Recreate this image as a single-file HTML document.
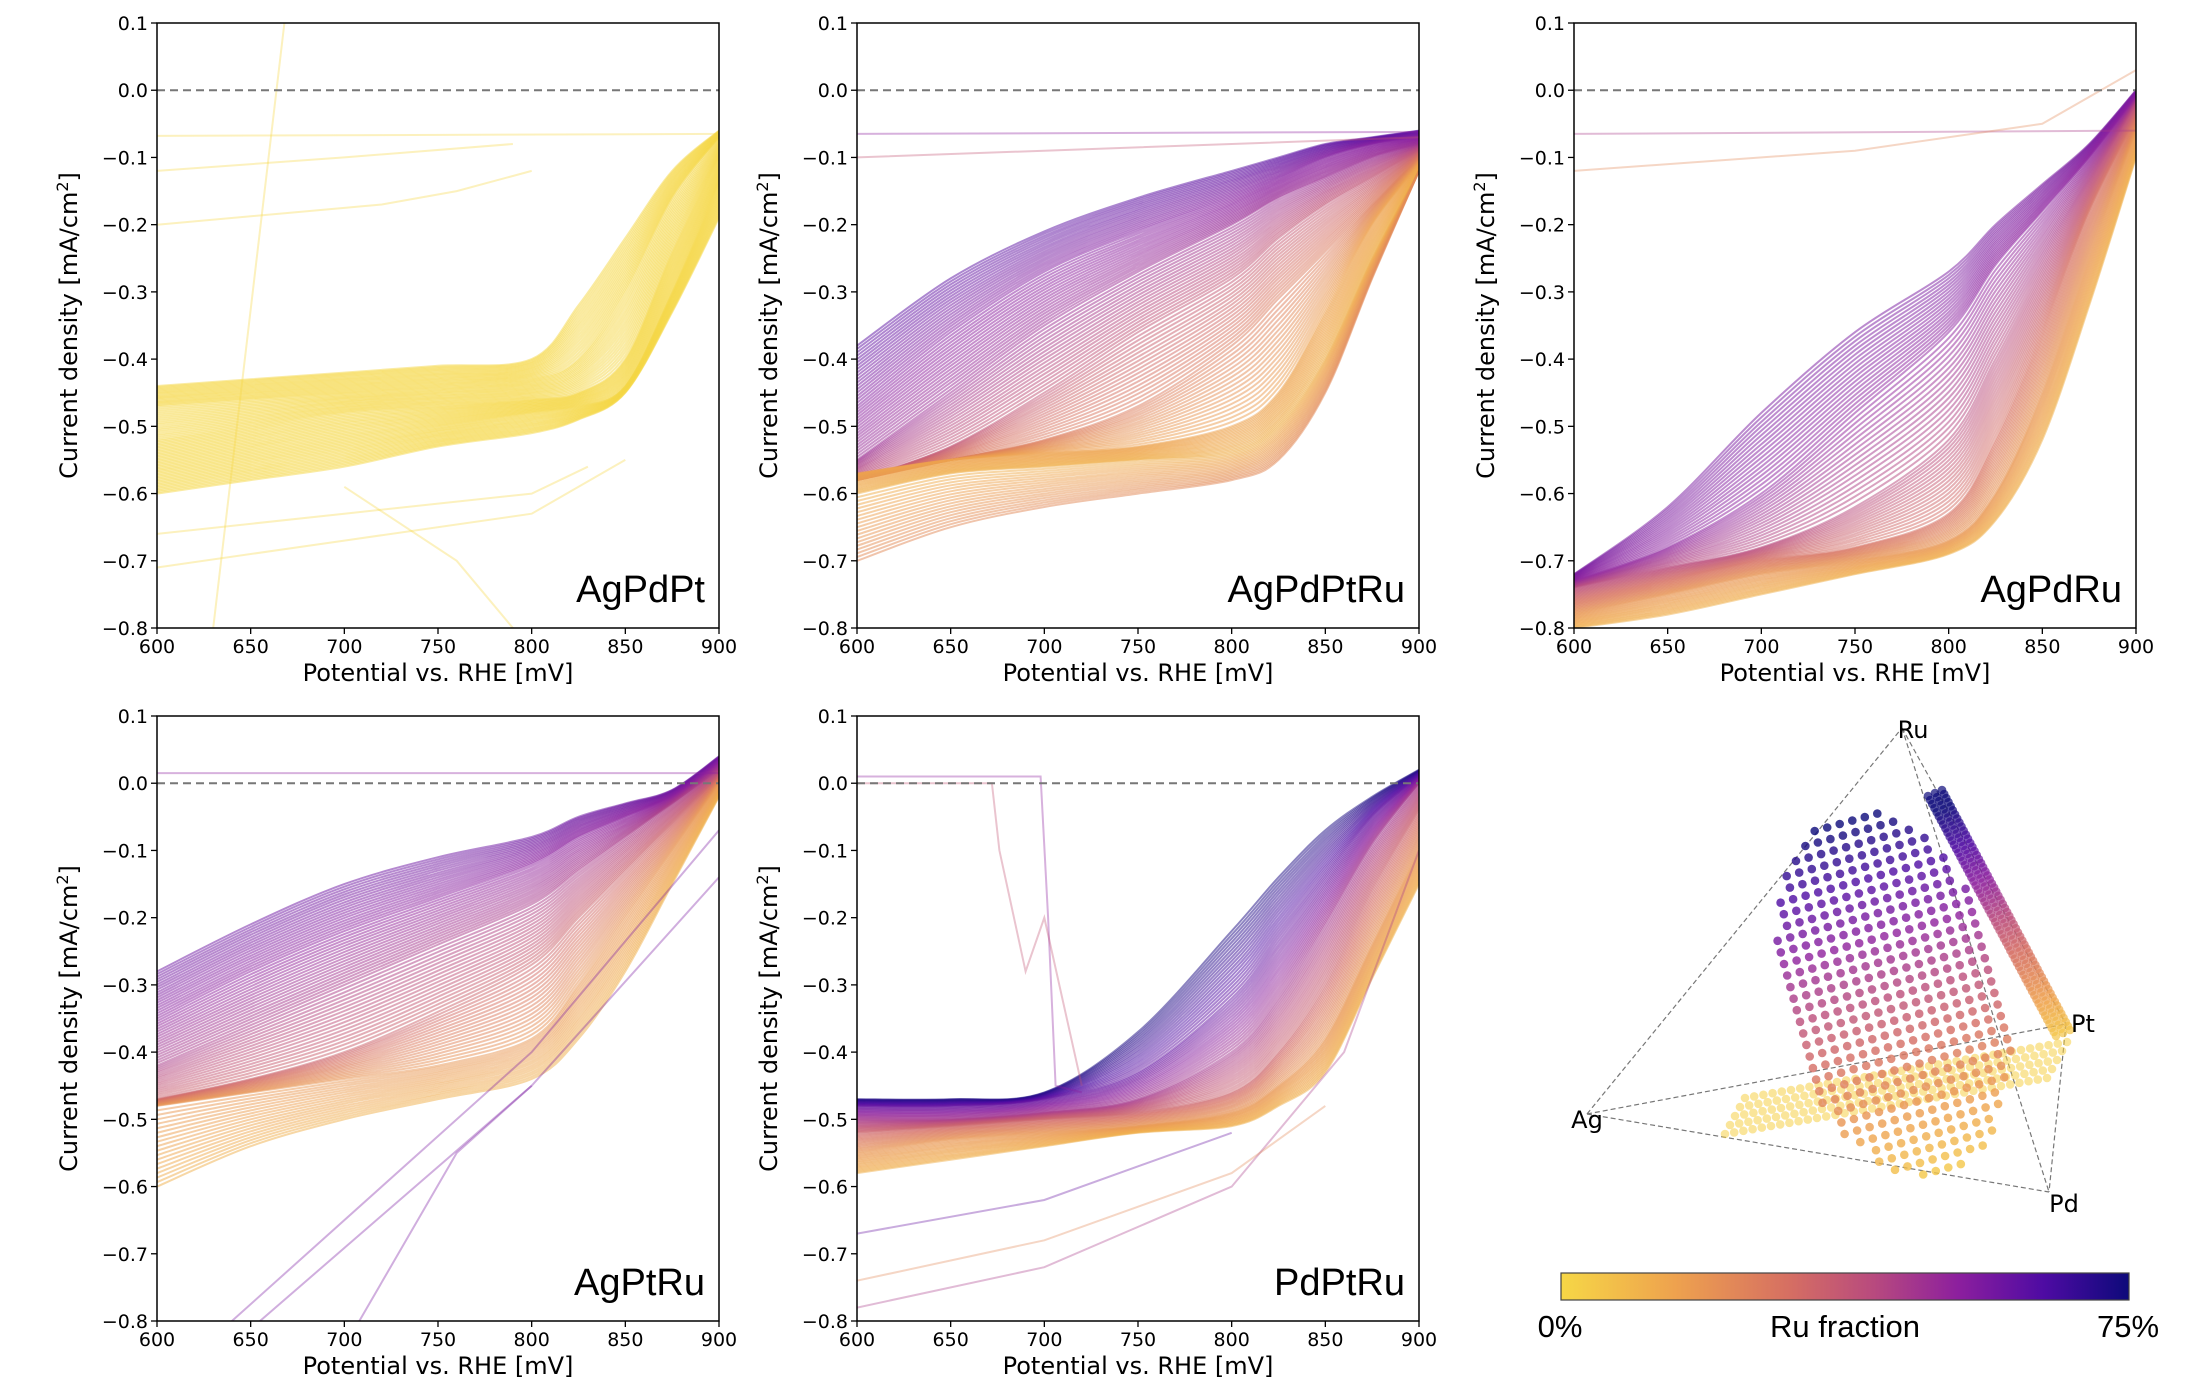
<!DOCTYPE html>
<html><head><meta charset="utf-8"><style>
html,body{margin:0;padding:0;background:#fff;}
svg{display:block;}
text{font-family:"DejaVu Sans","Liberation Sans",sans-serif;fill:#000;}
.pl{font-family:"Liberation Sans",sans-serif;}
</style></head><body>
<svg id="fig" width="2200" height="1400" viewBox="0 0 2200 1400" xmlns="http://www.w3.org/2000/svg">
<defs>
<linearGradient id="cmap" x1="0" x2="1" y1="0" y2="0">
<stop offset="0" stop-color="#f6d746"/><stop offset="0.2" stop-color="#eea24e"/><stop offset="0.4" stop-color="#d66f62"/><stop offset="0.55" stop-color="#b84a7e"/><stop offset="0.7" stop-color="#8c1f9e"/><stop offset="0.85" stop-color="#4e0ba3"/><stop offset="1" stop-color="#0d0a7a"/>
</linearGradient>
</defs>
</svg>
<script>
const xs = [600,650,700,750,800,825,850,875,900];
const xTicks = [600,650,700,750,800,850,900];
const yTicks = [0.1,0,-0.1,-0.2,-0.3,-0.4,-0.5,-0.6,-0.7,-0.8];
const panelNames = ["AgPdPt","AgPdPtRu","AgPdRu","AgPtRu","PdPtRu"];
const p1Curves = [
 [0.0,[-0.44,-0.43,-0.42,-0.41,-0.40,-0.32,-0.22,-0.12,-0.06]],
 [0.0,[-0.47,-0.46,-0.45,-0.44,-0.43,-0.40,-0.30,-0.16,-0.07]],
 [0.0,[-0.52,-0.50,-0.48,-0.47,-0.46,-0.45,-0.40,-0.24,-0.10]],
 [0.0,[-0.56,-0.54,-0.52,-0.50,-0.48,-0.47,-0.44,-0.30,-0.14]],
 [0.0,[-0.60,-0.58,-0.56,-0.53,-0.51,-0.49,-0.45,-0.33,-0.19]]];
const p2Curves = [
 [0.82,[-0.38,-0.28,-0.21,-0.16,-0.12,-0.10,-0.08,-0.07,-0.06]],
 [0.72,[-0.47,-0.36,-0.27,-0.21,-0.16,-0.13,-0.10,-0.08,-0.07]],
 [0.65,[-0.55,-0.45,-0.35,-0.27,-0.20,-0.16,-0.13,-0.10,-0.08]],
 [0.5,[-0.58,-0.53,-0.45,-0.36,-0.28,-0.22,-0.17,-0.13,-0.09]],
 [0.35,[-0.58,-0.55,-0.52,-0.47,-0.38,-0.31,-0.24,-0.17,-0.10]],
 [0.2,[-0.57,-0.55,-0.54,-0.53,-0.50,-0.45,-0.33,-0.20,-0.11]],
 [0.15,[-0.60,-0.57,-0.56,-0.55,-0.54,-0.50,-0.40,-0.25,-0.12]],
 [0.3,[-0.70,-0.65,-0.62,-0.60,-0.58,-0.55,-0.45,-0.28,-0.12]]];
const p3Curves = [
 [0.75,[-0.72,-0.62,-0.48,-0.36,-0.27,-0.20,-0.14,-0.08,0.0]],
 [0.7,[-0.73,-0.68,-0.60,-0.48,-0.36,-0.26,-0.18,-0.10,-0.01]],
 [0.55,[-0.74,-0.71,-0.68,-0.62,-0.52,-0.40,-0.27,-0.14,-0.02]],
 [0.4,[-0.76,-0.73,-0.70,-0.68,-0.63,-0.52,-0.36,-0.18,-0.04]],
 [0.25,[-0.78,-0.75,-0.72,-0.70,-0.67,-0.60,-0.45,-0.25,-0.06]],
 [0.15,[-0.80,-0.78,-0.75,-0.72,-0.69,-0.64,-0.52,-0.32,-0.10]]];
const p4Curves = [
 [0.78,[-0.28,-0.21,-0.15,-0.11,-0.08,-0.05,-0.03,-0.01,0.04]],
 [0.7,[-0.35,-0.28,-0.22,-0.17,-0.12,-0.08,-0.05,-0.02,0.03]],
 [0.6,[-0.42,-0.36,-0.30,-0.24,-0.18,-0.13,-0.08,-0.03,0.02]],
 [0.45,[-0.47,-0.44,-0.40,-0.34,-0.27,-0.20,-0.13,-0.06,0.01]],
 [0.25,[-0.48,-0.46,-0.44,-0.42,-0.38,-0.30,-0.20,-0.10,0.0]],
 [0.15,[-0.60,-0.54,-0.50,-0.47,-0.44,-0.38,-0.28,-0.15,-0.02]]];
const p5Curves = [
 [0.97,[-0.47,-0.47,-0.46,-0.37,-0.22,-0.14,-0.07,-0.02,0.02]],
 [0.8,[-0.48,-0.48,-0.47,-0.43,-0.32,-0.23,-0.14,-0.05,0.01]],
 [0.62,[-0.50,-0.50,-0.49,-0.47,-0.40,-0.32,-0.21,-0.09,0.0]],
 [0.45,[-0.52,-0.51,-0.50,-0.49,-0.46,-0.40,-0.30,-0.16,-0.04]],
 [0.25,[-0.55,-0.53,-0.52,-0.51,-0.49,-0.45,-0.38,-0.24,-0.10]],
 [0.15,[-0.58,-0.56,-0.54,-0.52,-0.51,-0.48,-0.43,-0.29,-0.15]]];
const p1Extra = [[0,[600,900],[-0.068,-0.065]],[0,[630,668],[-0.8,0.1]],[0,[600,700,800,830],[-0.66,-0.63,-0.60,-0.56]],[0,[600,700,800,850],[-0.71,-0.67,-0.63,-0.55]],[0,[600,700,790],[-0.12,-0.10,-0.08]],[0,[600,720,760,800],[-0.2,-0.17,-0.15,-0.12]],[0,[700,760,790],[-0.59,-0.70,-0.8]]];
const p2Extra = [[0.7,[600,900],[-0.065,-0.062]],[0.5,[600,700,800,900],[-0.1,-0.09,-0.08,-0.07]]];
const p3Extra = [[0.6,[600,900],[-0.065,-0.06]],[0.3,[600,750,850,900],[-0.12,-0.09,-0.05,0.03]]];
const p4Extra = [[0.7,[600,900],[0.015,0.015]],[0.75,[640,800,900],[-0.8,-0.4,-0.07]],[0.75,[655,800,900],[-0.8,-0.45,-0.14]],[0.75,[708,760,800],[-0.8,-0.55,-0.45]]];
const p5Extra = [[0.7,[600,698,702,706,720],[0.01,0.01,-0.2,-0.45,-0.46]],[0.5,[600,672,676,690,700,720],[0,0,-0.1,-0.28,-0.2,-0.45]],[0.6,[600,700,800,860,900],[-0.78,-0.72,-0.6,-0.4,-0.1]],[0.3,[600,700,800,850],[-0.74,-0.68,-0.58,-0.48]],[0.8,[600,700,800],[-0.67,-0.62,-0.52]]];
const allCurves=[p1Curves,p2Curves,p3Curves,p4Curves,p5Curves];
const allExtras=[p1Extra,p2Extra,p3Extra,p4Extra,p5Extra];
const cbLabels=["0%","Ru fraction","75%"];

const NS="http://www.w3.org/2000/svg";
const svg=document.getElementById('fig');
function mk(tag,attrs,parent){const e=document.createElementNS(NS,tag);for(const k in attrs)e.setAttribute(k,attrs[k]);(parent||svg).appendChild(e);return e;}
const stops=[[0,[246,215,70]],[0.2,[238,162,78]],[0.4,[214,111,98]],[0.55,[184,74,126]],[0.7,[140,31,158]],[0.85,[78,11,163]],[1,[13,10,122]]];
function cmap(t){t=Math.max(0,Math.min(1,t));for(let i=1;i<stops.length;i++){if(t<=stops[i][0]){const a=stops[i-1],b=stops[i];const f=(t-a[0])/(b[0]-a[0]);const c=a[1].map((v,j)=>Math.round(v+(b[1][j]-v)*f));return `rgb(${c[0]},${c[1]},${c[2]})`;}}return 'rgb(13,10,122)';}
function smooth(P){let d='M'+P[0][0].toFixed(1)+','+P[0][1].toFixed(1);
 for(let i=0;i<P.length-1;i++){const p0=P[i-1]||P[i],p1=P[i],p2=P[i+1],p3=P[i+2]||P[i+1];
  const c1=[p1[0]+(p2[0]-p0[0])/6,p1[1]+(p2[1]-p0[1])/6],c2=[p2[0]-(p3[0]-p1[0])/6,p2[1]-(p3[1]-p1[1])/6];
  d+='C'+c1[0].toFixed(1)+','+c1[1].toFixed(1)+' '+c2[0].toFixed(1)+','+c2[1].toFixed(1)+' '+p2[0].toFixed(1)+','+p2[1].toFixed(1);}
 return d;}
const panels=[[157,23],[857,23],[1574,23],[157,716],[857,716]];
const W=562,H=605;
panels.forEach((p,pi)=>{
 const [L,T]=p;
 const g=mk('g',{});
 
 
 const sx=v=>L+(v-600)/300*W, sy=v=>T+(0.1-v)/0.9*H;
 const cp=mk('clipPath',{id:'cp'+pi},g);mk('rect',{x:L,y:T,width:W,height:H},cp);
 const lines=mk('g',{'clip-path':`url(#cp${pi})`},g);
 
 
 const cur=allCurves[pi];
 const N=18;
 for(let i=0;i<cur.length;i++){
  const nk=(i<cur.length-1)?N:1;
  for(let k=0;k<nk;k++){
   const f=k/N;const a=cur[i],b=cur[Math.min(i+1,cur.length-1)];
   const t=a[0]+(b[0]-a[0])*f;
   const P=xs.map((x,j)=>[sx(x),sy(a[1][j]+(b[1][j]-a[1][j])*f)]);
   const pth=mk('path',{d:smooth(P),fill:'none',stroke:cmap(t),'stroke-width':2,'stroke-opacity':0.5},lines);
   
   
  }
 }
 allExtras[pi].forEach(e=>{
  const d=e[1].map((x,j)=>(j?'L':'M')+sx(x).toFixed(1)+','+sy(e[2][j]).toFixed(1)).join('');
  const pth=mk('path',{d:d,fill:'none',stroke:cmap(e[0]),'stroke-width':2,'stroke-opacity':0.35},lines);
  
  
 });
 const zl=mk('line',{x1:L,x2:L+W,y1:sy(0),y2:sy(0),stroke:'#777','stroke-width':2,'stroke-dasharray':'8,5'},g);
 
 
 const fr=mk('rect',{x:L,y:T,width:W,height:H,fill:'none',stroke:'#000','stroke-width':1.5},g);
 
 
 xTicks.forEach(v=>{mk('line',{x1:sx(v),x2:sx(v),y1:T+H,y2:T+H+6,stroke:'#000','stroke-width':1.3},g);
  const tx=mk('text',{x:sx(v),y:T+H+25,'font-size':19,'text-anchor':'middle'},g);tx.textContent=v;
  });
 yTicks.forEach(v=>{mk('line',{x1:L-6,x2:L,y1:sy(v),y2:sy(v),stroke:'#000','stroke-width':1.3},g);
  const tx=mk('text',{x:L-9,y:sy(v)+7,'font-size':19,'text-anchor':'end'},g);tx.textContent=(v<0?'\u2212':'')+Math.abs(v).toFixed(1);
  });
 const xl=mk('text',{x:L+W/2,y:T+H+53,'font-size':24,'text-anchor':'middle'},g);xl.textContent='Potential vs. RHE [mV]';
 
 const yl=mk('text',{x:0,y:0,'font-size':24,'text-anchor':'middle',transform:`translate(${L-80},${T+H/2}) rotate(-90)`},g);
 yl.innerHTML='Current density [mA/cm<tspan dy="-9" font-size="16">2</tspan><tspan dy="9">]</tspan>';
 
 const pl=mk('text',{x:L+W-14,y:T+H-26,'font-size':38,'text-anchor':'end','class':'pl'},g);pl.textContent=panelNames[pi];
 
});
// tetrahedron
const V={Ag:[1587,1114],Pd:[2049,1192],Pt:[2066,1024],Ru:[1902,728]};
const tg=mk('g',{});


[['Ag','Ru'],['Ag','Pt'],['Ag','Pd'],['Ru','Pt'],['Ru','Pd'],['Pt','Pd']].forEach(e=>{
 mk('line',{x1:V[e[0]][0],y1:V[e[0]][1],x2:V[e[1]][0],y2:V[e[1]][1],stroke:'#777','stroke-width':1.2,'stroke-dasharray':'5,3'},tg);});
function dot(x,y,ru,op){const ci=mk('circle',{cx:x.toFixed(1),cy:y.toFixed(1),r:4.3,fill:cmap(ru/0.75),'fill-opacity':op},tg);
 }
// yellow AgPdPt band (Ru = 0)
for(let i=0;i<36;i++)for(let j=0;j<5;j++){const x=1745+i*9.2+j*-5,y=1098-i*1.6+j*9;dot(x,y,0.02,0.55);}
// quaternary blob
const cx=1887,cy=994,rx=110,ry=190,ang=-0.27;
const bl=[];
for(let u=-rx;u<=rx;u+=13)for(let v=-ry;v<=ry;v+=12){if((u*u)/(rx*rx)+(v*v)/(ry*ry)<=1){const x=cx+u*Math.cos(ang)-v*Math.sin(ang)+(v%24?6:0),y=cy+u*Math.sin(ang)+v*Math.cos(ang);const ru=0.75*(1-(v+ry)/(2*ry))+0.03;bl.push([x,y,ru]);}}
bl.sort((a,b)=>a[2]-b[2]).forEach(b=>dot(b[0],b[1],b[2],0.8));
// PdPtRu stripe
for(let i=0;i<60;i++)for(let j=-1;j<=1;j++){const f=i/59;const x=1935+f*128+j*7,y=793+f*240-j*3;dot(x,y,0.75*(1-f)+0.05,0.7);}
[['Ru',1913,738],['Ag',1587,1128],['Pt',2083,1032],['Pd',2064,1212]].forEach(l=>{const t=mk('text',{x:l[1],y:l[2],'font-size':24,'text-anchor':'middle'},tg);t.textContent=l[0];
 });
// colorbar
const cb=mk('rect',{x:1561,y:1273,width:568,height:27,fill:'url(#cmap)',stroke:'#444','stroke-width':1.2});

[[1560,'middle'],[1845,'middle'],[2128,'middle']].forEach((p,i)=>{const t=mk('text',{x:p[0],y:1337,'font-size':31,'text-anchor':p[1],'class':'pl'});t.textContent=cbLabels[i];
 });
</script>
</body></html>
